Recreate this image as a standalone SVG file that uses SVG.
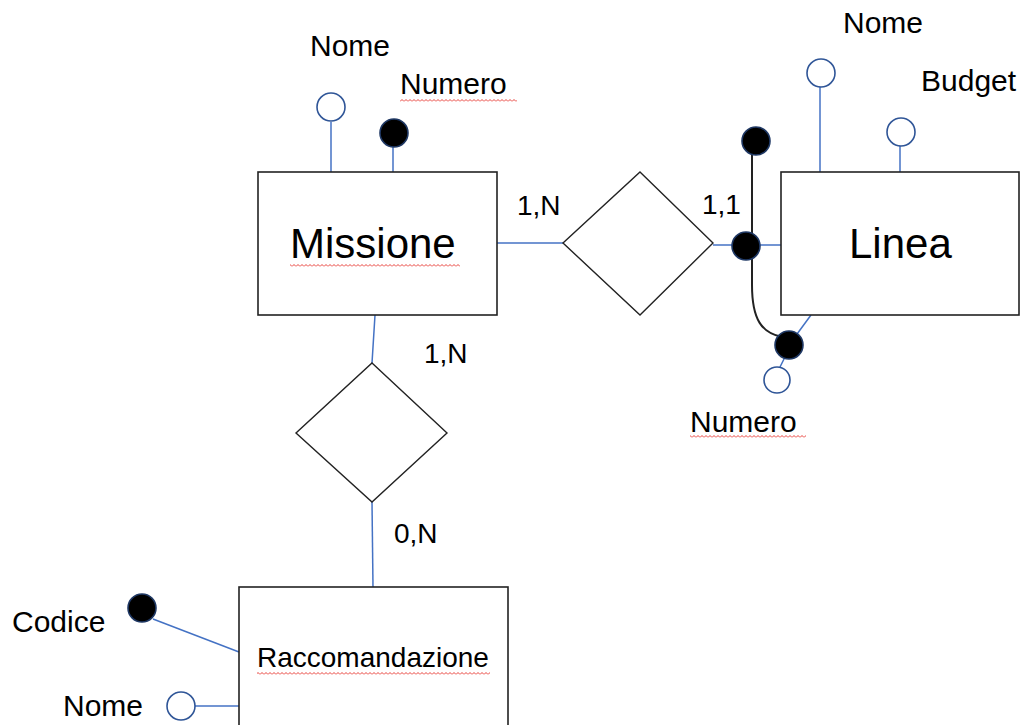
<svg xmlns="http://www.w3.org/2000/svg" width="1026" height="725" viewBox="0 0 1026 725">
<style>
.box{fill:#fff;stroke:#222;stroke-width:1.6}
.rel{fill:#fff;stroke:#222;stroke-width:1.4}
.ln{stroke:#4472C4;stroke-width:1.5;fill:none}
.open{fill:#fff;stroke:#2F5597;stroke-width:1.6}
.key{fill:#000;stroke:#1F3864;stroke-width:1.6}
.t{font-family:"Liberation Sans",Arial,sans-serif;fill:#000}
.a{font-size:30px}
.c{font-size:28px}
.sq{fill:url(#squig)}
</style>
<defs>
<pattern id="squig" patternUnits="userSpaceOnUse" width="4" height="3">
<polyline points="0,2.5 2,0.5 4,2.5" fill="none" stroke="#E8403A" stroke-width="1"/>
</pattern>
</defs>
<rect width="1026" height="725" fill="#fff"/>
<g id="connectors">
<line class="ln" x1="331" y1="122" x2="331" y2="172"/>
<line class="ln" x1="393" y1="147" x2="393" y2="172"/>
<line class="ln" x1="820" y1="87" x2="820" y2="172"/>
<line class="ln" x1="900" y1="146" x2="900" y2="172"/>
<line class="ln" x1="497" y1="243" x2="563" y2="243"/>
<line class="ln" x1="713" y1="245" x2="781" y2="245"/>
<line class="ln" x1="375" y1="315" x2="372" y2="363"/>
<line class="ln" x1="372" y1="502" x2="373" y2="587"/>
<line class="ln" x1="789" y1="345" x2="811" y2="315"/>
<line class="ln" x1="785" y1="357" x2="780" y2="367"/>
<line class="ln" x1="153" y1="619" x2="239" y2="652"/>
<line class="ln" x1="195" y1="706" x2="239" y2="706"/>
<path d="M752,155 L752,285 C752,320 762,333 782,337" fill="none" stroke="#222" stroke-width="2"/>
</g>
<g id="missione">
<rect class="box" x="258" y="172" width="239" height="143"/>
<text class="t" x="290" y="258" font-size="42">Missione</text>
<rect class="sq" x="290" y="264" width="170" height="3"/>
</g>
<g id="linea">
<rect class="box" x="781" y="172" width="238" height="143"/>
<text class="t" x="849" y="258" font-size="42">Linea</text>
</g>
<g id="raccomandazione">
<rect class="box" x="239" y="587" width="269" height="150"/>
<text class="t" x="257" y="667" font-size="28">Raccomandazione</text>
<rect class="sq" x="257" y="672" width="233" height="3"/>
</g>
<g id="rel-missione-linea">
<polygon class="rel" points="640,172 713,243 640,315 563,243"/>
</g>
<g id="rel-missione-raccomandazione">
<polygon class="rel" points="372,363 447,433 372,502 296,433"/>
</g>
<g id="attr-missione-nome">
<circle class="open" cx="331" cy="107" r="14"/>
<text class="t a" x="310" y="56">Nome</text>
</g>
<g id="attr-missione-numero">
<circle class="key" cx="394" cy="133" r="14"/>
<text class="t a" x="400" y="94" font-size="32">Numero</text>
<rect class="sq" x="400" y="99" width="117" height="3"/>
</g>
<g id="attr-linea-nome">
<circle class="open" cx="821" cy="73" r="14"/>
<text class="t a" x="843" y="33">Nome</text>
</g>
<g id="attr-linea-budget">
<circle class="open" cx="901" cy="132" r="14"/>
<text class="t a" x="921" y="91">Budget</text>
</g>
<g id="key-linea-ext">
<circle class="key" cx="756" cy="141" r="14"/>
<circle class="key" cx="746" cy="246" r="14"/>
</g>
<g id="attr-linea-numero">
<circle class="key" cx="789" cy="345" r="14"/>
<circle class="open" cx="777" cy="380" r="13"/>
<text class="t a" x="690" y="432" font-size="32">Numero</text>
<rect class="sq" x="690" y="435" width="116" height="3"/>
</g>
<g id="attr-racc-codice">
<circle class="key" cx="142" cy="608" r="14"/>
<text class="t a" x="12" y="632">Codice</text>
</g>
<g id="attr-racc-nome">
<circle class="open" cx="181" cy="706" r="14"/>
<text class="t a" x="63" y="716">Nome</text>
</g>
<g id="cardinalities">
<text class="t c" x="517" y="215">1,N</text>
<text class="t c" x="702" y="214">1,1</text>
<text class="t c" x="424" y="363">1,N</text>
<text class="t c" x="394" y="543">0,N</text>
</g>
</svg>
